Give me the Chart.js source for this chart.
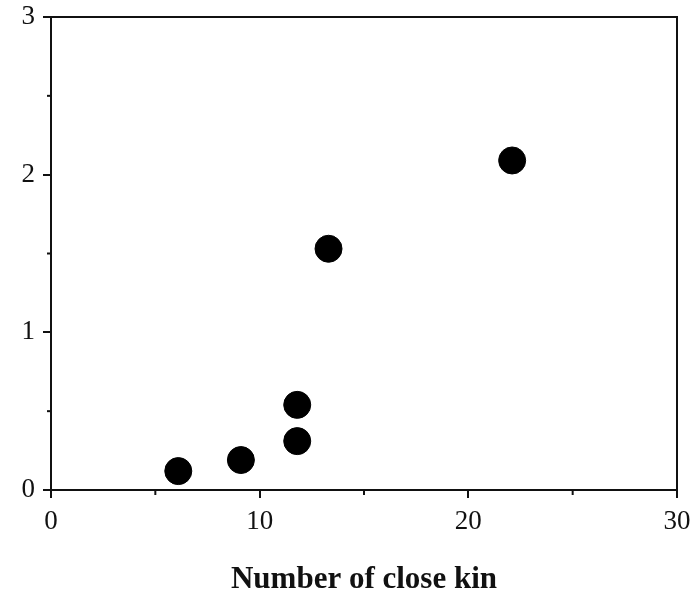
<!DOCTYPE html>
<html>
<head>
<meta charset="utf-8">
<script src="https://cdn.jsdelivr.net/npm/chart.js@4"></script>
<style>
  html, body { margin: 0; padding: 0; background: #fff; }
  #wrap { width: 694px; height: 593px; }
</style>
</head>
<body>
<div id="wrap"><canvas id="kinChart"></canvas></div>
<script>
// values
const closeKin = [6.1, 9.1, 11.8, 11.8, 13.3, 22.1];
const yValues = [0.12, 0.19, 0.31, 0.54, 1.53, 2.09];
const xTickLabels = [0, 10, 20, 30];
const yTickLabels = [0, 1, 2, 3];

const points = closeKin.map((x, i) => ({ x: x, y: yValues[i] }));

// frame + small minor ticks
const framePlugin = {
  id: 'frame',
  afterDraw(chart) {
    const { ctx, chartArea: a, scales } = chart;
    ctx.save();
    ctx.strokeStyle = '#111';
    ctx.lineWidth = 2;
    ctx.strokeRect(a.left, a.top, a.right - a.left, a.bottom - a.top);
    [5, 15, 25].forEach(v => {
      const px = scales.x.getPixelForValue(v);
      ctx.beginPath();
      ctx.moveTo(px, a.bottom);
      ctx.lineTo(px, a.bottom + 5);
      ctx.stroke();
    });
    [0.5, 1.5, 2.5].forEach(v => {
      const py = scales.y.getPixelForValue(v);
      ctx.beginPath();
      ctx.moveTo(a.left, py);
      ctx.lineTo(a.left - 4, py);
      ctx.stroke();
    });
    ctx.restore();
  }
};

document.addEventListener("DOMContentLoaded", () => {
  const ctx = document.getElementById("kinChart");

  new Chart(ctx, {
    type: 'scatter',
    data: {
      datasets: [{
        data: points,
        backgroundColor: '#000',
        borderColor: '#000',
        pointRadius: 13.5,
        pointHoverRadius: 13.5
      }]
    },
    options: {
      responsive: true,
      maintainAspectRatio: false,
      animation: false,
      layout: { padding: { top: 17, right: 17, left: 0, bottom: 0 } },
      plugins: { legend: { display: false }, tooltip: { enabled: false } },
      scales: {
        x: {
          type: 'linear',
          min: 0, max: 30,
          afterBuildTicks: s => { s.ticks = xTickLabels.map(v => ({ value: v })); },
          afterFit: s => { s.height = 103; s.paddingLeft = 0; s.paddingRight = 0; },
          grid: { drawOnChartArea: false, color: '#111', lineWidth: 2, tickLength: 8 },
          border: { color: '#111', width: 2 },
          ticks: { color: '#111', padding: 8, font: { family: 'Liberation Serif', size: 27 } },
          title: {
            display: true,
            text: 'Number of close kin',
            color: '#111',
            padding: { top: 30, bottom: -6 },
            font: { family: 'Liberation Serif', size: 31, weight: 'bold' }
          }
        },
        y: {
          type: 'linear',
          min: 0, max: 3,
          afterBuildTicks: s => { s.ticks = yTickLabels.map(v => ({ value: v })); },
          afterFit: s => { s.width = 51; s.paddingTop = 0; s.paddingBottom = 0; },
          grid: { drawOnChartArea: false, color: '#111', lineWidth: 2, tickLength: 8 },
          border: { color: '#111', width: 2 },
          ticks: { color: '#111', padding: 8, font: { family: 'Liberation Serif', size: 27 } }
        }
      }
    },
    plugins: [framePlugin]
  });
});
</script>
</body>
</html>
